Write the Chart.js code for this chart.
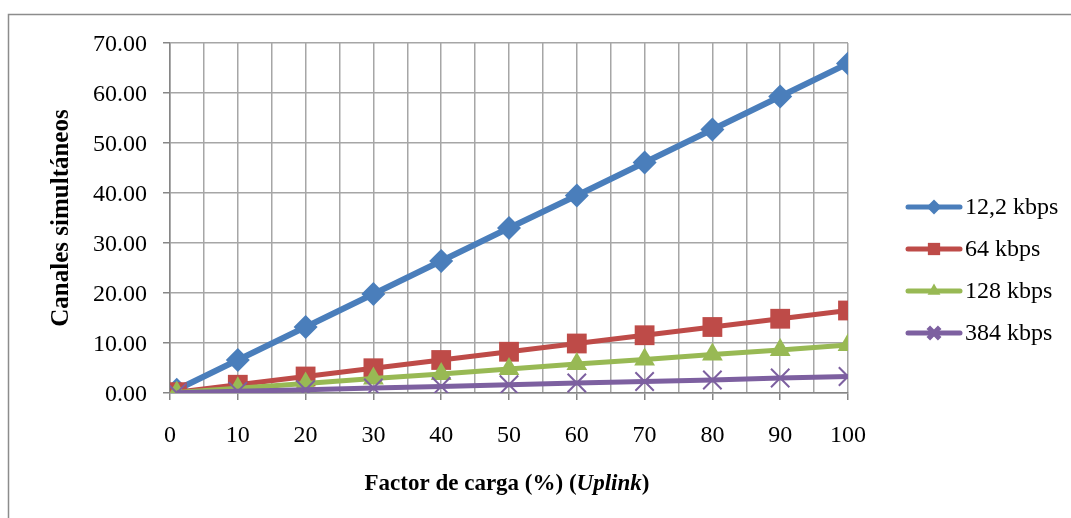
<!DOCTYPE html>
<html>
<head>
<meta charset="utf-8">
<script src="https://cdn.jsdelivr.net/npm/chart.js@4/dist/chart.umd.min.js"></script>
<style>
  html, body { margin: 0; padding: 0; background: #fff; }
  canvas { display: block; }
</style>
</head>
<body>
<canvas id="chart" width="1071" height="518"></canvas>
<script>
// Factor de carga (%) on the x axis
const loadFactor = [1, 10, 20, 30, 40, 50, 60, 70, 80, 90, 100];

// Canales simultáneos per service
const kbps12_2 = [0.66, 6.6, 13.2, 19.8, 26.4, 33.0, 39.5, 46.1, 52.7, 59.3, 65.9];
const kbps64 = [0.17, 1.65, 3.3, 4.95, 6.6, 8.25, 9.9, 11.55, 13.2, 14.85, 16.5];
const kbps128 = [0.1, 0.96, 1.9, 2.9, 3.8, 4.8, 5.8, 6.7, 7.7, 8.6, 9.6];
const kbps384 = [0.03, 0.33, 0.66, 1.0, 1.3, 1.65, 2.0, 2.3, 2.6, 3.0, 3.3];

const seriesLabels = ["12,2 kbps", "64 kbps", "128 kbps", "384 kbps"];

const FONT = '"Liberation Serif", "Times New Roman", serif';
const GRID = "#A6A6A6";
const AXIS = "#868686";

function toPoints(values) {
  return values.map((v, i) => ({ x: loadFactor[i], y: v }));
}

const styles = [
  { color: "#4A7EBB", pointStyle: "rectRot", radius: 12, width: 6 },
  { color: "#BE4B48", pointStyle: "rect", radius: 14, width: 5 },
  { color: "#98B954", pointStyle: "triangle", radius: 12, width: 5 },
  { color: "#7D60A0", pointStyle: "crossRot", radius: 13, width: 5 },
];

const datasets = [kbps12_2, kbps64, kbps128, kbps384].map((values, i) => ({
  label: seriesLabels[i],
  data: toPoints(values),
  borderColor: styles[i].color,
  backgroundColor: styles[i].color,
  borderWidth: styles[i].width,
  pointStyle: styles[i].pointStyle,
  pointRadius: styles[i].radius,
  pointBorderWidth: styles[i].pointStyle === "crossRot" ? 2 : 0,
  pointBorderColor: styles[i].color,
  pointBackgroundColor: styles[i].color,
  tension: 0,
  order: 4 - i,
}));

// frame, axis titles and the Excel-like legend
const decorations = {
  id: "decorations",
  beforeDraw(chart) {
    const ctx = chart.ctx;
    ctx.save();
    ctx.strokeStyle = "#8C8C8C";
    ctx.lineWidth = 1.5;
    ctx.strokeRect(8.5, 14.5, 1200, 600);
    ctx.restore();
  },
  afterDraw(chart) {
    const ctx = chart.ctx;
    const area = chart.chartArea;
    ctx.save();
    ctx.fillStyle = "#000";
    ctx.textBaseline = "alphabetic";

    // x title with italic part
    const parts = [
      { t: "Factor de carga (%) (", f: "bold 23px " + FONT },
      { t: "Uplink", f: "italic bold 23px " + FONT },
      { t: ")", f: "bold 23px " + FONT },
    ];
    let total = 0;
    parts.forEach((p) => { ctx.font = p.f; p.w = ctx.measureText(p.t).width; total += p.w; });
    let x = (area.left + area.right) / 2 - 2 - total / 2;
    parts.forEach((p) => { ctx.font = p.f; ctx.fillText(p.t, x, 490); x += p.w; });

    // y title
    ctx.save();
    ctx.translate(68, (area.top + area.bottom) / 2);
    ctx.rotate(-Math.PI / 2);
    ctx.font = "bold 25px " + FONT;
    ctx.textAlign = "center";
    ctx.fillText("Canales simultáneos", 0, 0);
    ctx.restore();

    // legend
    const rows = [207, 249, 291, 333];
    chart.data.datasets.forEach((ds, i) => {
      const y = rows[i];
      ctx.strokeStyle = ds.borderColor;
      ctx.lineWidth = 5;
      ctx.lineCap = "round";
      ctx.beginPath();
      ctx.moveTo(908, y);
      ctx.lineTo(960, y);
      ctx.stroke();
      ctx.fillStyle = ds.borderColor;
      ctx.strokeStyle = ds.borderColor;
      ctx.lineCap = "butt";
      Chart.helpers.drawPoint(ctx, {
        pointStyle: ds.pointStyle,
        radius: ds.pointRadius * 0.62,
        borderWidth: ds.pointStyle === "crossRot" ? 2 : 0,
        rotation: 0,
      }, 934, y);
      ctx.fillStyle = "#000";
      ctx.font = "24px " + FONT;
      ctx.textAlign = "left";
      ctx.textBaseline = "middle";
      ctx.fillText(ds.label, 965, y + 1);
    });
    ctx.restore();
  },
};

new Chart(document.getElementById("chart"), {
  type: "line",
  data: { datasets: datasets },
  options: {
    responsive: false,
    animation: false,
    devicePixelRatio: 1,
    layout: { padding: { left: 0, right: 223, top: 43, bottom: 0 } },
    plugins: { legend: { display: false }, tooltip: { enabled: false } },
    scales: {
      x: {
        type: "linear",
        min: 0,
        max: 100,
        afterFit: (scale) => { scale.height = 125; },
        afterBuildTicks: (scale) => {
          const ticks = [];
          for (let v = 0; v <= 100; v += 5) ticks.push({ value: v });
          scale.ticks = ticks;
        },
        grid: {
          color: GRID,
          lineWidth: 1.5,
          tickLength: 7,
          tickColor: (c) => (c.tick && c.tick.value % 10 === 0 ? AXIS : "rgba(0,0,0,0)"),
          tickWidth: 1.5,
        },
        border: { color: AXIS, width: 1.5 },
        ticks: {
          autoSkip: false,
          maxRotation: 0,
          padding: 21,
          color: "#000",
          font: { family: FONT, size: 24 },
          callback: (v) => (v % 10 === 0 ? String(v) : ""),
        },
      },
      y: {
        min: 0,
        max: 70,
        afterFit: (scale) => { scale.width = 170; },
        grid: { color: GRID, lineWidth: 1.5, tickLength: 7, tickColor: AXIS, tickWidth: 1.5 },
        border: { color: AXIS, width: 1.5 },
        ticks: {
          stepSize: 10,
          padding: 16,
          labelOffset: 2,
          color: "#000",
          font: { family: FONT, size: 24 },
          callback: (v) => v.toFixed(2),
        },
      },
    },
  },
  plugins: [decorations],
});
</script>
</body>
</html>
